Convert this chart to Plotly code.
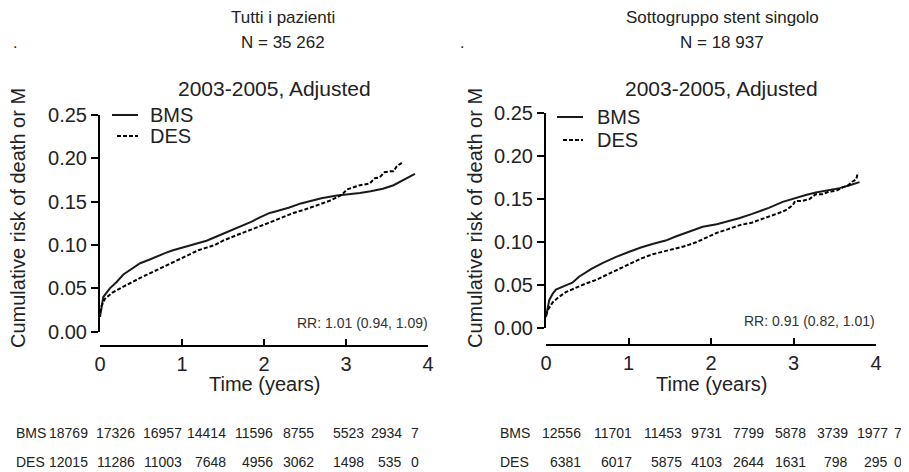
import plotly.graph_objects as go

W, H = 909, 472
OFF = 8  # page body margin of the rendered html

# ---------------- data ----------------
# Left panel: all patients
left_bms_t = [0.0, 0.02, 0.04, 0.12, 0.20, 0.285, 0.40, 0.49, 0.60, 0.69, 0.80, 0.89, 1.00, 1.10, 1.20, 1.30,
              1.40, 1.50, 1.60, 1.71, 1.85, 1.95, 2.07, 2.15, 2.30, 2.45, 2.56, 2.70, 2.89, 3.00, 3.17, 3.30,
              3.45, 3.58, 3.70, 3.84]
left_bms_y = [0.017, 0.030, 0.040, 0.050, 0.057, 0.066, 0.073, 0.079, 0.083, 0.087, 0.091, 0.094, 0.097, 0.100,
              0.103, 0.105, 0.109, 0.113, 0.117, 0.121, 0.127, 0.132, 0.137, 0.139, 0.143, 0.148, 0.151, 0.154,
              0.157, 0.158, 0.160, 0.162, 0.165, 0.169, 0.175, 0.182]
left_des_t = [0.0, 0.02, 0.06, 0.15, 0.285, 0.40, 0.49, 0.60, 0.69, 0.80, 0.89, 1.00, 1.10, 1.20, 1.30, 1.40,
              1.50, 1.60, 1.71, 1.85, 1.95, 2.07, 2.20, 2.36, 2.50, 2.68, 2.80, 2.89, 2.95, 3.01, 3.10, 3.17,
              3.29, 3.35, 3.41, 3.47, 3.54, 3.58, 3.62, 3.66, 3.70]
left_des_y = [0.022, 0.030, 0.038, 0.045, 0.052, 0.058, 0.062, 0.067, 0.071, 0.076, 0.080, 0.085, 0.090, 0.094,
              0.097, 0.100, 0.105, 0.109, 0.113, 0.118, 0.122, 0.126, 0.131, 0.137, 0.141, 0.147, 0.151, 0.155,
              0.158, 0.164, 0.167, 0.169, 0.171, 0.177, 0.178, 0.184, 0.185, 0.185, 0.191, 0.194, 0.196]

# Right panel: single stent subgroup
right_bms_t = [0.0, 0.02, 0.04, 0.08, 0.12, 0.24, 0.32, 0.40, 0.55, 0.69, 0.85, 1.01, 1.15, 1.29, 1.45, 1.58,
               1.75, 1.90, 2.07, 2.20, 2.34, 2.50, 2.70, 2.87, 3.00, 3.15, 3.27, 3.40, 3.56, 3.70, 3.80]
right_bms_y = [0.013, 0.025, 0.033, 0.040, 0.045, 0.050, 0.053, 0.060, 0.069, 0.076, 0.083, 0.089, 0.094, 0.098,
               0.102, 0.107, 0.113, 0.118, 0.121, 0.124, 0.128, 0.133, 0.140, 0.147, 0.151, 0.155, 0.158, 0.160,
               0.163, 0.167, 0.170]
right_des_t = [0.0, 0.02, 0.08, 0.15, 0.24, 0.35, 0.48, 0.60, 0.69, 0.85, 1.01, 1.15, 1.29, 1.45, 1.58, 1.70,
               1.82, 1.95, 2.07, 2.20, 2.35, 2.50, 2.62, 2.75, 2.82, 2.90, 2.99, 3.02, 3.10, 3.19, 3.27, 3.35,
               3.43, 3.52, 3.60, 3.66, 3.72, 3.76, 3.78]
right_des_y = [0.015, 0.021, 0.030, 0.036, 0.042, 0.047, 0.052, 0.056, 0.060, 0.067, 0.075, 0.081, 0.086, 0.090,
               0.093, 0.096, 0.100, 0.106, 0.111, 0.115, 0.120, 0.123, 0.127, 0.131, 0.134, 0.137, 0.143, 0.148,
               0.148, 0.150, 0.156, 0.156, 0.159, 0.160, 0.164, 0.166, 0.171, 0.173, 0.181]

panel_titles = ["Tutti i pazienti", "Sottogruppo stent singolo"]
panel_n = ["N = 35 262", "N = 18 937"]
subtitle = "2003-2005, Adjusted"
rr_labels = ["RR: 1.01 (0.94, 1.09)", "RR: 0.91 (0.82, 1.01)"]
series_names = ["BMS", "DES"]
y_title = "Cumulative risk of death or M"
x_title = "Time (years)"
y_ticks = [0.00, 0.05, 0.10, 0.15, 0.20, 0.25]
x_ticks = [0, 1, 2, 3, 4]

left_bms_risk = ["18769", "17326", "16957", "14414", "11596", "8755", "5523", "2934", "7"]
left_des_risk = ["12015", "11286", "11003", "7648", "4956", "3062", "1498", "535", "0"]
right_bms_risk = ["12556", "11701", "11453", "9731", "7799", "5878", "3739", "1977", "7"]
right_des_risk = ["6381", "6017", "5875", "4103", "2644", "1631", "798", "295", "0"]

# ---------------- layout helpers ----------------
FONT = "Liberation Sans, Arial, Helvetica, sans-serif"
TXT = "#222222"


def px(x):
    return (x - OFF) / W


def py(y):
    return 1 - (y - OFF) / H


fig = go.Figure()

panels = [
    dict(xd=(100, 428), yd=(115, 331.7), xpos=346, bms=(left_bms_t, left_bms_y), des=(left_des_t, left_des_y),
         cx=274, tx=283, ytx=18, leg=(112, 138, 117, 148, 115, 136), rrx=430, rry=323),
    dict(xd=(546, 876), yd=(113.3, 328.3), xpos=345, bms=(right_bms_t, right_bms_y),
         des=(right_des_t, right_des_y), cx=721, tx=722, ytx=475, leg=(557, 583, 563, 595, 117, 140),
         rrx=877, rry=321),
]

for i, p in enumerate(panels):
    k = "" if i == 0 else str(i + 1)
    xa, ya = "x" + k, "y" + k
    fig.add_trace(go.Scatter(x=p["bms"][0], y=p["bms"][1], mode="lines", name=series_names[0],
                             line=dict(color="#1a1a1a", width=2), xaxis=xa, yaxis=ya, showlegend=False))
    fig.add_trace(go.Scatter(x=p["des"][0], y=p["des"][1], mode="lines", name=series_names[1],
                             line=dict(color="#000000", width=2, dash="4px,2px"), xaxis=xa, yaxis=ya,
                             showlegend=False))

    axis_common = dict(showgrid=False, zeroline=False, showline=True, linecolor="black", linewidth=2,
                       ticks="outside", tickcolor="black", tickwidth=2,
                       tickfont=dict(family=FONT, size=20, color=TXT))
    fig.layout["xaxis" + k] = dict(axis_common, domain=[px(p["xd"][0]), px(p["xd"][1])], range=[0, 4],
                                   tickvals=x_ticks, ticks="inside", ticklen=6, anchor="free",
                                   position=py(p["xpos"]))
    fig.layout["yaxis" + k] = dict(axis_common, domain=[py(p["yd"][1]), py(p["yd"][0])], range=[0, 0.25],
                                   tickvals=y_ticks, tickformat=".2f", ticklen=7, anchor=xa)

    # legend (drawn manually to match the compact spacing of the original)
    lx0, lx1, ldx0, ltx, ly1, ly2 = p["leg"]
    fig.add_shape(type="line", xref="paper", yref="paper", x0=px(lx0), x1=px(lx1), y0=py(ly1), y1=py(ly1),
                  line=dict(color="#1a1a1a", width=2))
    fig.add_shape(type="line", xref="paper", yref="paper", x0=px(ldx0), x1=px(lx1), y0=py(ly2), y1=py(ly2),
                  line=dict(color="#000000", width=2, dash="4px,2px"))
    for name, yy in zip(series_names, (ly1, ly2)):
        fig.add_annotation(text=name, x=px(ltx), y=py(yy), xref="paper", yref="paper", showarrow=False,
                           xanchor="left", yanchor="middle", font=dict(family=FONT, size=20, color=TXT))

    ann = [
        dict(text=panel_titles[i], x=px(p["tx"]), y=py(18), size=17),
        dict(text=panel_n[i], x=px(p["tx"]), y=py(42), size=17),
        dict(text=subtitle, x=px(p["cx"]), y=py(88), size=21),
        dict(text=x_title, x=px((p["xd"][0] + p["xd"][1]) / 2), y=py(384), size=20),
    ]
    for a in ann:
        fig.add_annotation(text=a["text"], x=a["x"], y=a["y"], xref="paper", yref="paper", showarrow=False,
                           xanchor="center", yanchor="middle", font=dict(family=FONT, size=a["size"], color=TXT))
    fig.add_annotation(text=y_title, x=px(p["ytx"]), y=py(218), xref="paper", yref="paper", showarrow=False,
                       textangle=-90, xanchor="center", yanchor="middle",
                       font=dict(family=FONT, size=20, color=TXT))
    fig.add_annotation(text=rr_labels[i], x=px(p["rrx"]), y=py(p["rry"]), xref="paper", yref="paper",
                       showarrow=False, xanchor="right", yanchor="middle",
                       font=dict(family=FONT, size=14, color="#333333"))
    fig.add_annotation(text=".", x=px(15 if i == 0 else 462), y=py(42), xref="paper", yref="paper",
                       showarrow=False, xanchor="center", yanchor="middle",
                       font=dict(family=FONT, size=16, color=TXT))

# ---------------- number-at-risk tables ----------------
tables = [
    dict(lab_x=14, edges=[90, 137, 184, 228, 275, 316, 366, 404, 421], rows=[left_bms_risk, left_des_risk]),
    dict(lab_x=498, edges=[583, 634, 684, 724, 766, 808, 850, 890, 904], rows=[right_bms_risk, right_des_risk]),
]
row_y = [433, 462]
for t in tables:
    for r, vals in enumerate(t["rows"]):
        fig.add_annotation(text=series_names[r], x=px(t["lab_x"]), y=py(row_y[r]), xref="paper", yref="paper",
                           showarrow=False, xanchor="left", yanchor="middle",
                           font=dict(family=FONT, size=14, color=TXT))
        for v, e in zip(vals, t["edges"]):
            fig.add_annotation(text=v, x=px(e), y=py(row_y[r]), xref="paper", yref="paper", showarrow=False,
                               xanchor="right", yanchor="middle", font=dict(family=FONT, size=14, color=TXT))

fig.update_layout(width=W, height=H, margin=dict(l=0, r=0, t=0, b=0, pad=0, autoexpand=False),
                  paper_bgcolor="white", plot_bgcolor="white", showlegend=False,
                  font=dict(family=FONT, color=TXT))

fig.write_html("out.html")
